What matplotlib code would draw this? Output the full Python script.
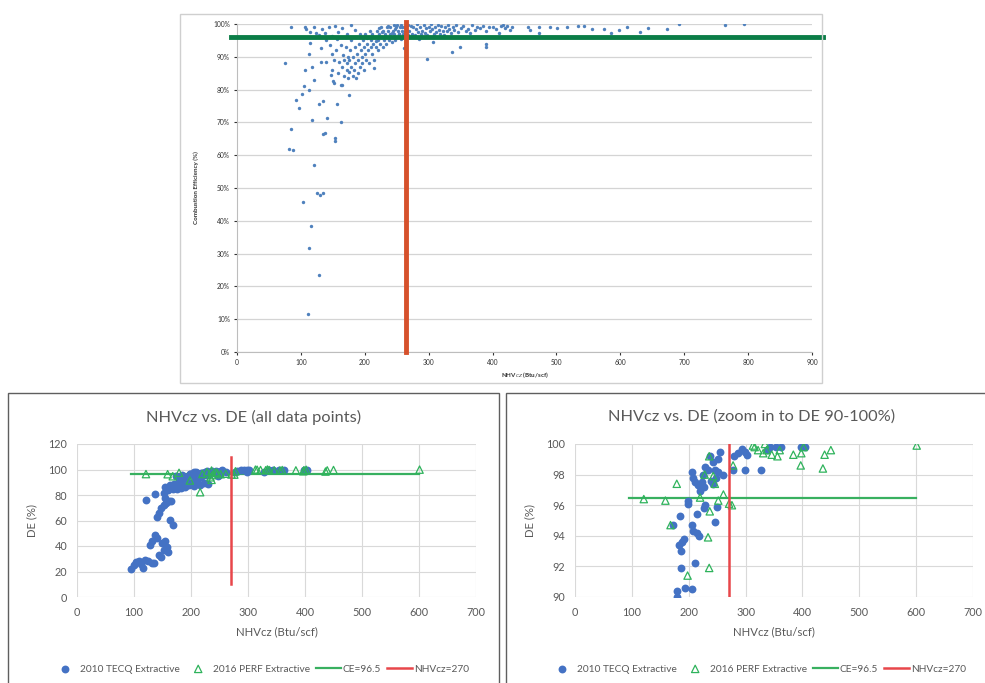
import matplotlib
matplotlib.use('Agg')
import matplotlib.pyplot as plt
import matplotlib.patches as mpatches
from matplotlib.ticker import FuncFormatter

plt.rcParams['font.family'] = ['Lato', 'DejaVu Sans']

# ---- top chart: combustion efficiency (%) vs NHVcz (Btu/scf) ----
top_points = [
    # low tail
    (111, 11.5), (129, 23.4), (113, 31.7), (116, 38.5), (104, 45.7), (125, 48.4), (130, 48.0),
    (134, 48.6), (121, 57.0), (82, 61.8), (88, 61.5), (85, 67.9), (134, 66.5), (138, 66.8),
    (153, 65.3), (153, 64.3), (117, 70.7), (141, 71.3), (163, 70.0), (97, 74.5), (93, 76.7),
    (129, 75.5), (135, 76.5), (157, 75.7), (101, 78.8), (112, 79.9), (105, 81.0), (120, 82.8),
    (176, 78.5), (164, 81.3), (75, 88.0), (106, 85.9), (117, 86.9), (113, 91.0), (115, 94.2),
    # top edge, low NHV
    (85, 99.0), (106, 99.2), (108, 98.4), (121, 99.2), (115, 97.7), (123, 97.4), (128, 96.5),
    (133, 98.6), (138, 97.2), (144, 99.0), (148, 96.2), (153, 99.4), (158, 97.6), (165, 98.9),
    (172, 97.0), (178, 99.7), (185, 98.2),
    # dense cluster
    (131, 92.6), (139, 88.5), (131, 88.3), (149, 86.0), (147, 84.5), (150, 82.7), (152, 82.1),
    (163, 81.4), (140, 95.0), (145, 93.5), (148, 91.0), (152, 89.0), (155, 92.0), (157, 95.5),
    (158, 85.0), (160, 88.5), (162, 93.5), (165, 87.0), (166, 90.5), (168, 84.0), (168, 89.0),
    (170, 93.0), (170, 96.0), (172, 86.0), (172, 88.0), (173, 90.0), (174, 83.5), (175, 85.5),
    (176, 89.0), (177, 92.0), (178, 95.0), (179, 87.0), (181, 84.0), (182, 90.0), (183, 86.0),
    (184, 93.0), (185, 88.0), (186, 96.0), (187, 83.5), (188, 91.0), (189, 85.0), (190, 89.0),
    (191, 94.0), (193, 87.0), (194, 92.0), (195, 90.0), (196, 88.0), (197, 95.0), (198, 86.0),
    (199, 93.0), (200, 91.0), (201, 97.0), (202, 89.0), (203, 94.0), (205, 92.0), (206, 96.0),
    (207, 88.0), (209, 93.0), (210, 95.0), (211, 91.0), (212, 97.0), (213, 94.0), (214, 86.5),
    (215, 89.0), (216, 96.0), (218, 93.0), (219, 98.0), (220, 95.0), (221, 92.0), (223, 97.0),
    (224, 94.0), (225, 99.0), (226, 96.0), (228, 93.0), (229, 98.0), (230, 95.0), (231, 97.0),
    (233, 94.0), (234, 99.0), (235, 96.0), (236, 98.0), (238, 95.0), (239, 97.0), (240, 99.0),
    (241, 96.0), (243, 94.5), (244, 98.0), (245, 99.8), (246, 97.0), (248, 95.0), (249, 99.0),
    (250, 96.0), (252, 98.0), (253, 97.0), (255, 99.0), (256, 95.5), (257, 99.8), (258, 98.0),
    (260, 97.0), (261, 92.6), (262, 99.0), (265, 98.0), (267, 99.6), (268, 96.5),
    (227, 97.6), (232, 96.4), (237, 99.5), (242, 97.4), (247, 98.6), (251, 99.6), (254, 96.8),
    (259, 99.2), (263, 97.6), (222, 98.8), (217, 94.8), (208, 97.8), (204, 95.6), (192, 96.8),
    # plateau
    (270, 98.0), (272, 99.5), (274, 97.0), (276, 99.0), (278, 96.5), (280, 98.5), (282, 100.0),
    (284, 97.5), (286, 99.0), (288, 96.8), (290, 98.0), (292, 99.6), (294, 97.2), (296, 98.8),
    (298, 96.5), (300, 99.2), (302, 97.8), (304, 100.0), (306, 98.4), (308, 96.8), (310, 99.0),
    (312, 97.5), (314, 99.8), (316, 98.2), (318, 97.0), (320, 99.4), (322, 98.0), (324, 96.7),
    (326, 99.2), (328, 97.8), (330, 99.7), (332, 98.5), (335, 97.2), (338, 99.0), (340, 98.2),
    (343, 99.6), (346, 97.6), (350, 98.8), (354, 99.4), (358, 97.8), (362, 98.6), (365, 97.3),
    (368, 99.7), (372, 98.2), (376, 99.0), (381, 98.7), (385, 99.5), (390, 98.0), (394, 99.2),
    (400, 99.0), (405, 98.5), (410, 97.4), (414, 99.5), (417, 99.7), (420, 98.8), (423, 99.4),
    (427, 98.3), (430, 99.0),
    # below the line right of the cut
    (285, 95.5), (297, 89.2), (307, 94.6), (307, 96.0), (336, 91.5), (349, 93.0), (390, 94.0),
    (390, 93.0),
    # sparse tail
    (456, 99.2), (459, 98.2), (472, 99.2), (472, 97.4), (490, 99.0), (501, 98.7), (517, 99.0),
    (533, 99.4), (543, 99.4), (556, 98.5), (575, 98.4), (585, 97.4), (598, 98.2), (610, 99.0),
    (631, 97.7), (644, 98.7), (673, 98.4), (692, 100.0), (764, 99.6), (793, 100.0),
]
top_nhv, top_eff = zip(*top_points)
top_ce_line = 96
top_nhv_line = 265

# ---- bottom charts: 2010 TECQ and 2016 PERF extractive tests ----
tecq_points = [
    (95, 22), (100, 25), (104, 27.5), (108, 28), (112, 26), (116, 23), (120, 29), (125, 28),
    (131, 26.5), (135, 27), (128, 40.5), (132, 44), (137, 48.5), (141, 46), (143, 33), (147, 31),
    (149, 42), (152, 37), (155, 44), (158, 39.5), (160, 35), (140, 63), (144, 66), (148, 70),
    (152, 72.5), (157, 74), (161, 75), (164, 60.5), (169, 56.5), (121, 76), (137, 80.5),
    (152, 81.5), (155, 86.5), (155, 78), (165, 75.5),
    (160, 84), (163, 88), (168, 85), (170, 89), (172, 86.5), (175, 84.5), (178, 87.5), (180, 89),
    (183, 85.5), (186, 88), (190, 86.5), (193, 89), (197, 87.5), (200, 88.5), (205, 87),
    (210, 89.5), (215, 88), (222, 89.5), (230, 89),
    (179, 90.0), (179, 90.4), (193, 90.6), (206, 90.5), (187, 91.9), (211, 92.2), (187, 93.0),
    (183, 93.4), (188, 93.6), (192, 93.8), (173, 94.7), (184, 95.3), (198, 96.1), (199, 96.3),
    (205, 98.2), (208, 97.8), (211, 97.5), (217, 97.3), (205, 94.7), (208, 94.3), (214, 94.2),
    (218, 94.0), (214, 95.4), (220, 96.9), (225, 98.0), (228, 98.5), (234, 98.3), (227, 95.8),
    (229, 96.0), (237, 99.2), (243, 98.8), (246, 98.3), (248, 97.8), (243, 97.4), (252, 99.0),
    (255, 99.5), (252, 98.2), (247, 94.9), (249, 95.9), (261, 98.0), (278, 98.3), (280, 99.2),
    (287, 99.4), (293, 99.7), (299, 99.5), (302, 99.3), (299, 98.3), (328, 98.3), (337, 99.6),
    (343, 99.8), (354, 99.8), (363, 99.8), (398, 99.8), (404, 99.8), (223, 97.5), (227, 97.2),
    (240, 97.6),
]
perf_points = [
    (121, 96.4), (159, 96.3), (168, 94.7), (179, 97.4), (198, 91.4), (216, 82.2), (220, 96.5),
    (228, 98.0), (236, 99.2), (234, 93.9), (236, 91.9), (237, 95.6), (243, 97.9), (246, 97.4),
    (252, 96.3), (261, 96.7), (271, 96.1), (276, 96.0), (278, 98.6), (313, 99.9), (316, 99.8),
    (322, 99.6), (331, 99.4), (334, 100.0), (337, 99.6), (346, 99.3), (356, 99.2), (360, 99.6),
    (384, 99.3), (397, 98.6), (398, 99.4), (402, 99.8), (436, 98.4), (439, 99.3), (450, 99.6),
    (601, 99.9),
]
tecq_x, tecq_y = zip(*tecq_points)
perf_x, perf_y = zip(*perf_points)
ce_limit = 96.5
ce_line_x = [95, 600]
nhv_limit = 270
nhv_line_y = [10, 110]

GRAY = '#595959'
W, H = 985, 683
fig = plt.figure(figsize=(W / 100, H / 100), dpi=100)


def px_axes(x0, y0, x1, y1):
    return fig.add_axes([x0 / W, 1 - y1 / H, (x1 - x0) / W, (y1 - y0) / H])


def px_box(x0, y0, x1, y1, color, lw):
    fig.patches.append(mpatches.Rectangle((x0 / W, 1 - y1 / H), (x1 - x0) / W, (y1 - y0) / H,
                                          transform=fig.transFigure, fill=False,
                                          edgecolor=color, lw=lw))


# frames
px_box(180, 14, 822, 383, '#cfcfcf', 1.0)
px_box(8, 393, 499, 690, '#5f5f5f', 1.0)
px_box(506, 393, 990, 690, '#5f5f5f', 1.0)

# top chart
ax = px_axes(237, 24, 812, 352)
ax.scatter(top_nhv, top_eff, s=6, marker='o', color='#4f81bd', lw=0, zorder=3)
ax.axhline(top_ce_line, xmin=-0.01, xmax=1.02, color='#0b7d47', lw=3.5, clip_on=False, zorder=4)
ax.plot([top_nhv_line] * 2, [0, 100.6], color='#d6512c', lw=3.5, clip_on=False, zorder=5)
ax.set_xlim(0, 900)
ax.set_ylim(0, 100)
ax.set_xticks(range(0, 1000, 100))
ax.set_yticks(range(0, 110, 10))
ax.yaxis.set_major_formatter(FuncFormatter(lambda v, p: f'{v:.0f}%'))
ax.grid(axis='y', color='#d4d4d4', lw=0.9)
ax.set_axisbelow(True)
for s in ('top', 'right'):
    ax.spines[s].set_visible(False)
for s in ('left', 'bottom'):
    ax.spines[s].set_color('#bdbdbd')
ax.tick_params(labelsize=4.8, colors='#333333', length=2, pad=3)
ax.set_ylabel('Combustion Efficiency (%)', fontsize=4.5, fontweight='bold', color='#333333')
ax.yaxis.set_label_coords(-0.066, 0.5)
ax.set_xlabel('NHV$_{CZ}$ (Btu/scf)', fontsize=4.5, fontweight='bold', color='#333333', labelpad=3)


def de_panel(x0, x1, ylim, yticks, title, title_x, legend_x):
    ax = px_axes(x0, 444, x1, 597)
    ax.scatter(tecq_x, tecq_y, s=32, color='#4472c4', lw=0, label='2010 TECQ Extractive', zorder=3)
    ax.scatter(perf_x, perf_y, s=28, marker='^', facecolors='none', edgecolors='#2fb35c', lw=0.9,
               label='2016 PERF Extractive', zorder=4)
    ax.plot(ce_line_x, [ce_limit] * 2, color='#38b060', lw=1.6, label='CE=96.5', zorder=2)
    ax.plot([nhv_limit] * 2, nhv_line_y, color='#e8464a', lw=1.8, label='NHVcz=270', zorder=5)
    ax.set_xlim(0, 700)
    ax.set_ylim(*ylim)
    ax.set_xticks(range(0, 800, 100))
    ax.set_yticks(yticks)
    for s in ax.spines.values():
        s.set_visible(False)
    ax.grid(True, color='#d9d9d9', lw=0.8)
    ax.set_axisbelow(True)
    ax.tick_params(length=0, labelsize=7.8, colors=GRAY, pad=7)
    ax.set_xlabel('NHVcz (Btu/scf)', fontsize=8.2, color=GRAY)
    ax.xaxis.set_label_coords(0.5, -0.19)
    ax.set_ylabel('DE (%)', fontsize=8.2, color=GRAY)
    ax.yaxis.set_label_coords(-0.1, 0.5)
    fig.text(title_x / W, 1 - 417 / H, title, ha='center', va='center', fontsize=11.8, color=GRAY)
    leg = ax.legend(loc='center', bbox_to_anchor=(legend_x / W, 1 - 669 / H),
                    bbox_transform=fig.transFigure, ncol=4, frameon=False, fontsize=7.3,
                    scatterpoints=1, handlelength=2.5, handletextpad=0.2, columnspacing=0.55,
                    borderpad=0.1)
    for t in leg.get_texts():
        t.set_color(GRAY)
    return ax


de_panel(77, 476, (0, 120), range(0, 140, 20), 'NHVcz vs. DE (all data points)', 254, 261)
de_panel(575, 973, (90, 100), range(90, 102, 2), 'NHVcz vs. DE (zoom in to DE 90-100%)', 752, 758)

fig.savefig('out.png', dpi=100, facecolor='white')
